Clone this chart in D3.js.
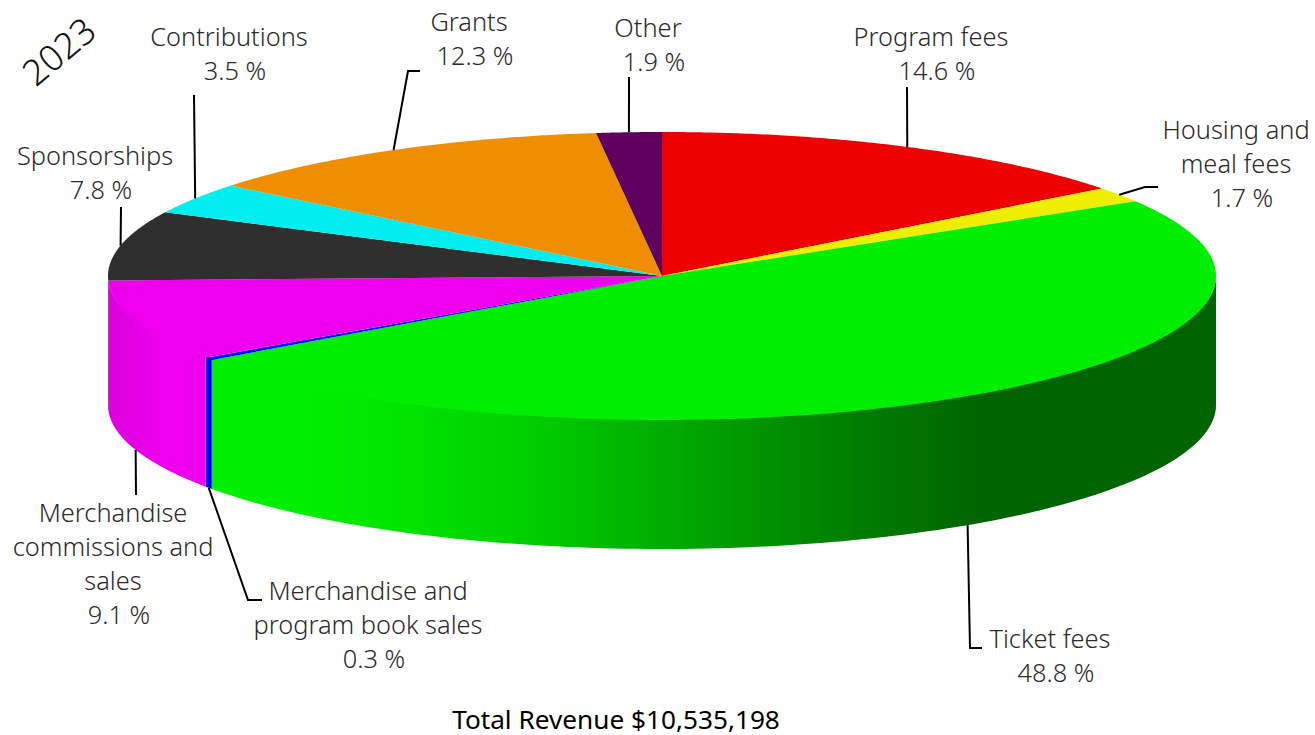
<!DOCTYPE html>
<html>
<head>
<meta charset="utf-8">
<script src="https://cdn.jsdelivr.net/npm/d3@7/dist/d3.min.js"></script>
<style>
  html, body { margin: 0; padding: 0; background: #fff; }
  svg { display: block; }
  text { font-family: "Noto Sans", "Open Sans", sans-serif; font-weight: 300; }
</style>
</head>
<body>
<svg id="chart" width="1315" height="735"></svg>
<script>
// Revenue shares for the year, clockwise from twelve o'clock.
const categories = ["Program fees", "Housing and meal fees", "Ticket fees",
  "Merchandise and program book sales", "Merchandise commissions and sales",
  "Sponsorships", "Contributions", "Grants", "Other"];
const shares = [14.6, 1.7, 48.8, 0.3, 9.1, 7.8, 3.5, 12.3, 1.9];
const colors = ["#ee0000", "#eeee00", "#00ee00", "#0000ee", "#ee00ee",
  "#2f2f2f", "#00eeee", "#ee8e00", "#5f005f"];
const labelLines = [["Program fees"], ["Housing and", "meal fees"], ["Ticket fees"],
  ["Merchandise and", "program book sales"], ["Merchandise", "commissions and", "sales"],
  ["Sponsorships"], ["Contributions"], ["Grants"], ["Other"]];
const yearLabel = "2023";
const totalLabel = "Total Revenue $10,535,198";

// Page layout of the tilted disc.
const cx = 662, cy = 276, rx = 554, ry = 144, depth = 129;

// Label placement: centre x and first baseline, leader bend points after the rim anchor.
const labelLayout = [
  { x: 931, y: 46, leader: [[907, 87]] },
  { x: 1236, y: 139, leader: [[1145, 187], [1158, 187]] },
  { x: 1050, y: 648, leader: [[970, 648], [982, 648]] },
  { x: 368, y: 600, leader: [[248, 600], [262, 600]] },
  { x: 113, y: 522, leader: [[136, 495]] },
  { x: 95, y: 165, leader: [[121, 207]] },
  { x: 229, y: 46, leader: [[194, 95]] },
  { x: 469, y: 31, leader: [[408, 71], [420, 71]] },
  { x: 648, y: 37, leader: [[629, 77]] }
];
const valueRowShift = 6;

// Wall shading as a brightness factor across the disc width (-1 left rim, 1 right rim).
const wallShade = [[-1, 0.92], [-0.9, 1], [-0.65, 1], [-0.5, 0.97], [-0.23, 0.86],
  [0.01, 0.72], [0.3, 0.55], [0.58, 0.42], [1, 0.42]];

const svg = d3.select("#chart");
const defs = svg.append("defs");

const arcs = d3.pie().value(d => d).sort(null)(shares);

const project = (a, drop = 0) => [cx + rx * Math.sin(a), cy - ry * Math.cos(a) + drop];
const sampleAngles = (a0, a1) => d3.range(0, 1.0001, 1 / 120).map(t => a0 + (a1 - a0) * t);
const line = d3.line();

// Walls are only visible on the near half of the disc; their upper edge tucks
// under the top face so no pale seam shows along the rim.
const wallLayer = svg.append("g");
arcs.forEach((d, i) => {
  const a0 = Math.max(d.startAngle, Math.PI / 2);
  const a1 = Math.min(d.endAngle, Math.PI * 1.5);
  if (a1 <= a0) return;
  const gradientId = "wall-" + i;
  const gradient = defs.append("linearGradient")
    .attr("id", gradientId)
    .attr("gradientUnits", "userSpaceOnUse")
    .attr("x1", cx - rx).attr("x2", cx + rx).attr("y1", 0).attr("y2", 0);
  const base = d3.rgb(colors[i]);
  wallShade.forEach(([pos, k]) => {
    gradient.append("stop")
      .attr("offset", (pos + 1) / 2)
      .attr("stop-color", d3.rgb(base.r * k, base.g * k, base.b * k).formatHex());
  });
  const angles = sampleAngles(a0, a1);
  const outline = angles.map(a => project(a, 3 * Math.cos(a)))
    .concat(angles.slice().reverse().map(a => project(a, depth)));
  wallLayer.append("path")
    .attr("d", line(outline) + "Z")
    .attr("fill", `url(#${gradientId})`);
});

// Top face of each slice.
svg.append("g").selectAll("path").data(arcs).join("path")
  .attr("d", d => line([[cx, cy]].concat(sampleAngles(d.startAngle, d.endAngle).map(a => project(a)))) + "Z")
  .attr("fill", (d, i) => colors[i]);

// Leader lines start on the rim at each slice's middle angle; near-side ones start on the lower edge.
const leaders = svg.append("g").attr("fill", "none").attr("stroke", "#000").attr("stroke-width", 2);
arcs.forEach((d, i) => {
  const mid = (d.startAngle + d.endAngle) / 2;
  const nearSide = Math.cos(mid) < 0;
  const start = project(mid, nearSide ? depth : 0);
  leaders.append("path").attr("d", line([start].concat(labelLayout[i].leader)));
});

// Slice labels: name lines, then the share.
const labelGroup = svg.append("g").attr("text-anchor", "middle").attr("fill", "#2a2a2a").attr("font-size", 25.4);
arcs.forEach((d, i) => {
  const spot = labelLayout[i];
  const rows = labelLines[i].concat(d3.format(".1f")(shares[i]) + " %");
  labelGroup.append("text").selectAll("tspan").data(rows).join("tspan")
    .attr("x", (r, k) => spot.x + (k === rows.length - 1 ? valueRowShift : 0))
    .attr("y", (r, k) => spot.y + k * 34)
    .text(r => r);
});

svg.append("text")
  .attr("transform", "translate(61,54) rotate(-40)")
  .attr("text-anchor", "middle").attr("dominant-baseline", "middle")
  .attr("font-size", 36).attr("fill", "#111")
  .text(yearLabel);

svg.append("text")
  .attr("x", 616).attr("y", 729)
  .attr("text-anchor", "middle")
  .attr("font-size", 26.2).attr("fill", "#000")
  .style("font-weight", 400)
  .text(totalLabel);
</script>
</body>
</html>
